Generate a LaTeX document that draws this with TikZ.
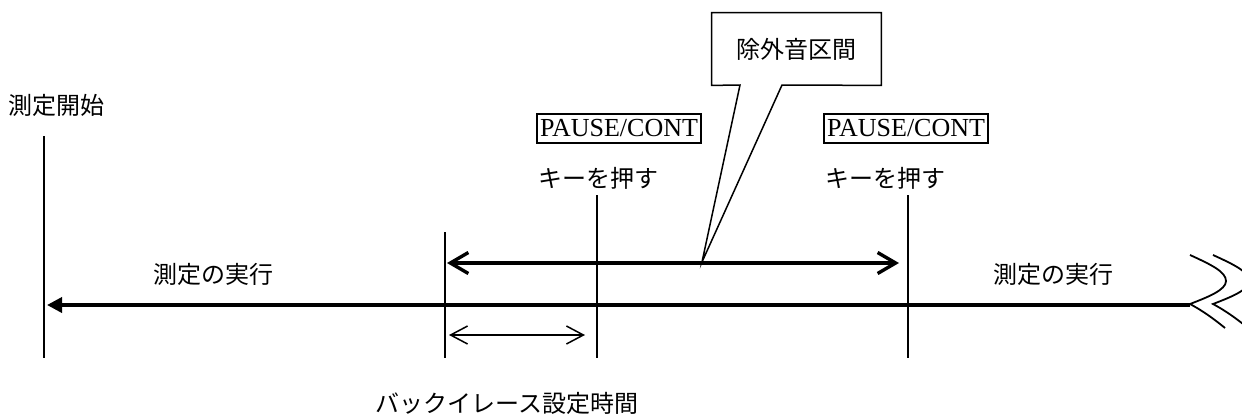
\documentclass[tikz,border=0pt]{standalone}
\usepackage{fontspec}
\setmainfont{Liberation Serif}
\newfontfamily\jpfont{Noto Sans CJK JP}
\usetikzlibrary{arrows.meta}

\begin{document}
\begin{tikzpicture}[
  x=0.5pt, y=-0.5pt,
  jptext/.style={anchor=west, inner sep=0pt, font=\jpfont\fontsize{12}{14}\selectfont},
  keybox/.style={draw, line width=0.75pt, inner xsep=1.5pt, inner ysep=0pt,
                 minimum height=14.5pt, font=\fontsize{13}{15}\selectfont},
  tick/.style={line width=0.8pt},
  timeline/.style={line width=1.75pt, -{Triangle[length=7.5pt,width=7.5pt]}},
  excl/.style={line width=1.7pt,
               {Straight Barb[length=9pt,width=10.5pt]}-{Straight Barb[length=9pt,width=10.5pt]}},
  backarr/.style={line width=0.75pt,
               {Straight Barb[length=8.5pt,width=9pt]}-{Straight Barb[length=8.5pt,width=9pt]}},
  breakmark/.style={line width=0.9pt},
]
\useasboundingbox (0,0) rectangle (1242,414);

% Time marks
\coordinate (startT) at (44,136);  \coordinate (startB) at (44,358);
\coordinate (eraseT) at (445,232); \coordinate (eraseB) at (445,358);
\coordinate (pressAT) at (597,195); \coordinate (pressAB) at (597,358);
\coordinate (pressBT) at (908,195); \coordinate (pressBB) at (908,358);
\draw[tick] (startT) -- (startB);
\draw[tick] (eraseT) -- (eraseB);
\draw[tick] (pressAT) -- (pressAB);
\draw[tick] (pressBT) -- (pressBB);

% Time line
\coordinate (lineEnd) at (1190,305);
\coordinate (lineStart) at (47,305);
\draw[timeline] (lineEnd) -- (lineStart);

% Break mark
\draw[breakmark] (1190,255) .. controls (1212,265) and (1226,272) .. (1226,281)
  .. controls (1226,290) and (1208,297) .. (1190,304)
  .. controls (1203,311) and (1214,319) .. (1225,328);
\draw[breakmark] (1213,255) .. controls (1235,265) and (1249,272) .. (1249,281)
  .. controls (1249,290) and (1231,297) .. (1213,304)
  .. controls (1226,311) and (1237,319) .. (1248,328);

% Excluded interval
\coordinate (exclL) at (447,263);
\coordinate (exclR) at (899,263);
\draw[excl] (exclL) -- (exclR);

% Back erase time
\coordinate (backL) at (449,335);
\coordinate (backR) at (585,335);
\draw[backarr] (backL) -- (backR);

% Callout
\node[jptext, anchor=center, minimum width=84.5pt, minimum height=36pt] (callout) at (796.5,49) {除外音区間};
\coordinate (calloutTip) at (702,262);
\draw[line width=0.75pt] (740,85) -- (callout.south west) -- (callout.north west)
  -- (callout.north east) -- (callout.south east) -- (782,85) -- (calloutTip) -- cycle;

% Labels
\node[jptext] (startLbl) at (8,105) {測定開始};
\node[keybox] (keyA) at (619,128.5) {PAUSE/CONT};
\node[keybox] (keyB) at (906,128.5) {PAUSE/CONT};
\node[jptext] (pressA) at (538,178) {キーを押す};
\node[jptext] (pressB) at (825,178) {キーを押す};
\node[jptext] (runA) at (153,274) {測定の実行};
\node[jptext] (runB) at (993,274) {測定の実行};
\node[jptext] (eraseLbl) at (375,403) {バックイレース設定時間};

\end{tikzpicture}
\end{document}
